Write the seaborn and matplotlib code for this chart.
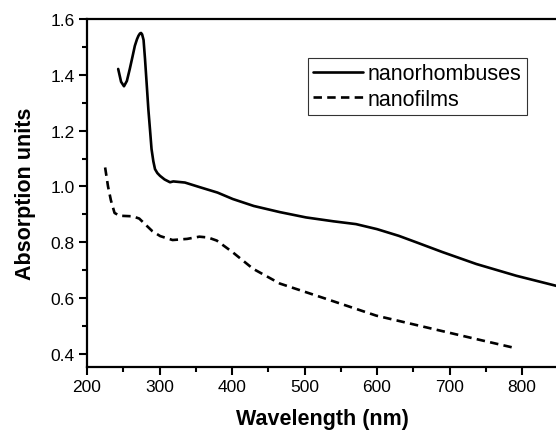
import matplotlib
matplotlib.use("Agg")
import matplotlib.pyplot as plt
from matplotlib.ticker import MultipleLocator, FormatStrFormatter
import seaborn as sns
import pandas as pd

# nanorhombuses
rh_x = [243, 247, 251, 255, 259, 263, 266, 269, 271, 273, 274.5, 276, 278, 280, 282.5,
        284.6, 287, 289, 291.5, 293.8, 297, 300.7, 307, 314.5, 319, 335, 356, 380, 401,
        430, 466, 502, 540, 571, 600, 630, 654, 690, 737, 792, 850]
rh_y = [1.421, 1.375, 1.359, 1.378, 1.421, 1.468, 1.504, 1.528, 1.54, 1.548, 1.55, 1.545,
        1.525, 1.457, 1.36, 1.277, 1.2, 1.134, 1.09, 1.062, 1.048, 1.038, 1.025, 1.015,
        1.018, 1.014, 0.997, 0.978, 0.955, 0.93, 0.908, 0.889, 0.875, 0.865, 0.847,
        0.823, 0.80, 0.765, 0.722, 0.68, 0.642]
# nanofilms
nf_x = [225, 229, 233, 238, 245, 263, 272, 280, 290, 301, 318, 338, 355, 367, 379, 401,
        429, 466, 530, 599, 668, 737, 792]
nf_y = [1.068, 1.0, 0.95, 0.905, 0.895, 0.893, 0.885, 0.865, 0.84, 0.822, 0.808, 0.812,
        0.82, 0.817, 0.806, 0.764, 0.705, 0.652, 0.597, 0.537, 0.495, 0.453, 0.42]
series = ["nanorhombuses", "nanofilms"]

df = pd.concat([
    pd.DataFrame({"x": rh_x, "y": rh_y, "s": series[0]}),
    pd.DataFrame({"x": nf_x, "y": nf_y, "s": series[1]}),
], ignore_index=True)

sns.set_style("ticks")
plt.rcParams["font.family"] = ["Liberation Sans", "DejaVu Sans"]
plt.rcParams["text.color"] = "black"
plt.rcParams["axes.labelcolor"] = "black"
plt.rcParams["xtick.color"] = "black"
plt.rcParams["ytick.color"] = "black"

fig = plt.figure(figsize=(5.56, 4.31), dpi=100)
ax = fig.add_axes([87 / 556, 1 - 368 / 431, 471.3 / 556, 348 / 431])

sns.lineplot(data=df, x="x", y="y", hue="s", style="s", sort=False,
             palette=["black", "black"], dashes=[(None, None), (3.2, 2.0)],
             linewidth=1.9, ax=ax, estimator=None)

ax.set_xlim(200, 850)
ax.set_ylim(0.353, 1.6)
ax.set_xticks([200, 300, 400, 500, 600, 700, 800])
ax.xaxis.set_minor_locator(MultipleLocator(50))
ax.yaxis.set_major_locator(MultipleLocator(0.2))
ax.yaxis.set_minor_locator(MultipleLocator(0.1))
ax.tick_params(which="major", direction="out", length=6, width=1.5, labelsize=12.5,
               colors="black", pad=3)
ax.tick_params(which="minor", direction="out", length=3.5, width=1.5, colors="black")
ax.yaxis.set_major_formatter(FormatStrFormatter("%.1f"))

for side in ["left", "bottom", "top"]:
    ax.spines[side].set_linewidth(1.6)
    ax.spines[side].set_color("black")
ax.spines["right"].set_visible(False)
ax.spines["top"].set_visible(True)

ax.set_xlabel("Wavelength (nm)", fontsize=15.5, fontweight="bold", labelpad=10,
              color="black")
ax.set_ylabel("Absorption units", fontsize=15.5, fontweight="bold", labelpad=10,
              color="black")

leg = ax.legend(loc="upper right", bbox_to_anchor=(0.934, 0.888), borderaxespad=0,
                fontsize=15.5, frameon=True, fancybox=False, handlelength=2.3,
                handletextpad=0.25, labelspacing=0.2, borderpad=0.25, title=None)
leg.get_frame().set_edgecolor("black")
leg.get_frame().set_linewidth(0.8)
for t in leg.get_texts():
    t.set_color("black")
for line in leg.get_lines():
    line.set_linewidth(1.9)

fig.savefig("out.png", dpi=100)
